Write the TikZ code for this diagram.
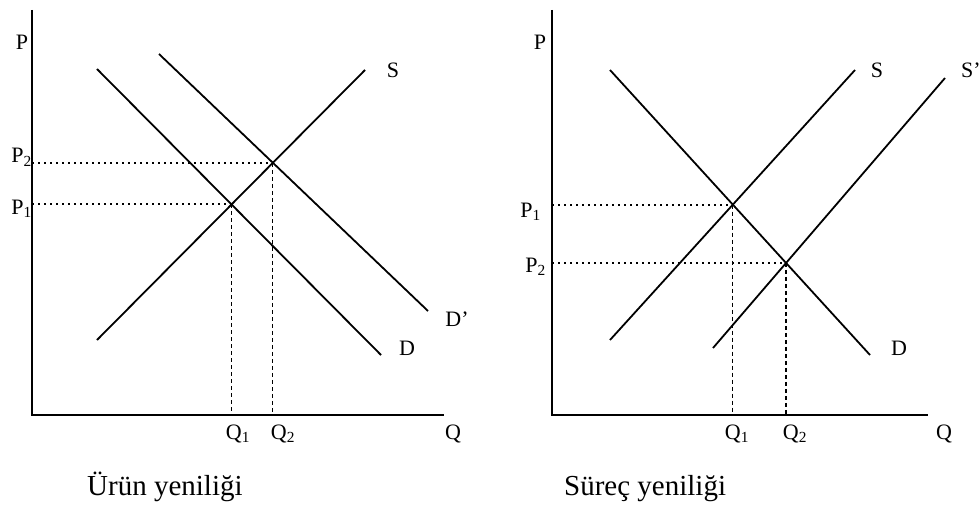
\documentclass[tikz,border=0pt]{standalone}
\usepackage{fontspec}
\setmainfont{Liberation Serif}
\usetikzlibrary{positioning}

\begin{document}
\begin{tikzpicture}[x=1pt, y=-1pt, font=\fontsize{22}{26}\selectfont,
  axis/.style={line width=2pt},
  curve/.style={line width=1.8pt},
  pguide/.style={line width=2pt, dash pattern=on 1.6pt off 4.4pt},
  qguide/.style={line width=1.1pt, dash pattern=on 4pt off 3pt},
  lbl/.style={inner sep=0pt, anchor=base},
  title/.style={inner sep=0pt, anchor=base west, font=\fontsize{29}{34}\selectfont}]
\useasboundingbox (0,0) rectangle (979,505);
% left: product innovation
\coordinate (top1) at (32,10);
\coordinate (o1)   at (32,415);
\coordinate (end1) at (444,415);
\coordinate (sa1) at (97,340);  \coordinate (sb1) at (365,70);
\coordinate (da1) at (97,69);   \coordinate (db1) at (381,355);
\coordinate (ea1) at (159,54);  \coordinate (eb1) at (428,311);
\coordinate (eq1) at (intersection of sa1--sb1 and da1--db1);
\coordinate (eq2) at (intersection of sa1--sb1 and ea1--eb1);
\draw[axis] (top1) -- (o1) -- (end1);
\draw[curve] (sa1) -- (sb1);
\draw[curve] (da1) -- (db1);
\draw[curve] (ea1) -- (eb1);
\draw[pguide] (o1 |- eq1) -- (eq1);
\draw[pguide] (o1 |- eq2) -- (eq2);
\draw[qguide] (eq1) -- (eq1 |- o1);
\draw[qguide] (eq2) -- (eq2 |- o1);
\node[lbl] (pL)   at (22,50)   {P};
\node[lbl, anchor=base east] (p2L) at (32,163) {P\textsubscript{2}};
\node[lbl, anchor=base east] (p1L) at (32,214) {P\textsubscript{1}};
\node[lbl] (q1L)  at (238,439) {Q\textsubscript{1}};
\node[lbl] (q2L)  at (283,439) {Q\textsubscript{2}};
\node[lbl] (qL)   at (453,439) {Q};
\node[lbl] (sL)   at (393,78)  {S};
\node[lbl] (dpL)  at (457,326) {D’};
\node[lbl] (dL)   at (407,355) {D};
\node[title] (t1) at (87,495)  {Ürün yeniliği};
% right: process innovation
\coordinate (top2) at (552,10);
\coordinate (o2)   at (552,415);
\coordinate (end2) at (928,415);
\coordinate (sa2) at (610,340); \coordinate (sb2) at (855,70);
\coordinate (ta2) at (713,348); \coordinate (tb2) at (945,78);
\coordinate (da2) at (610,70);  \coordinate (db2) at (870,355);
\coordinate (fq1) at (intersection of sa2--sb2 and da2--db2);
\coordinate (fq2) at (intersection of ta2--tb2 and da2--db2);
\draw[axis] (top2) -- (o2) -- (end2);
\draw[curve] (sa2) -- (sb2);
\draw[curve] (ta2) -- (tb2);
\draw[curve] (da2) -- (db2);
\draw[pguide] (o2 |- fq1) -- (fq1);
\draw[pguide] (o2 |- fq2) -- (fq2);
\draw[qguide] (fq1) -- (fq1 |- o2);
\draw[qguide] (fq2) -- (fq2 |- o2);
\node[lbl] (pR)   at (540,50)  {P};
\node[lbl, anchor=base east] (p1R) at (541,217) {P\textsubscript{1}};
\node[lbl, anchor=base east] (p2R) at (546,272) {P\textsubscript{2}};
\node[lbl] (q1R)  at (737,439) {Q\textsubscript{1}};
\node[lbl] (q2R)  at (795,439) {Q\textsubscript{2}};
\node[lbl] (qR)   at (944,439) {Q};
\node[lbl] (sR)   at (877,78)  {S};
\node[lbl, anchor=base west] (spR) at (961,78) {S’};
\node[lbl] (dR)   at (899,355) {D};
\node[title] (t2) at (564,495) {Süreç yeniliği};
\end{tikzpicture}
\end{document}
